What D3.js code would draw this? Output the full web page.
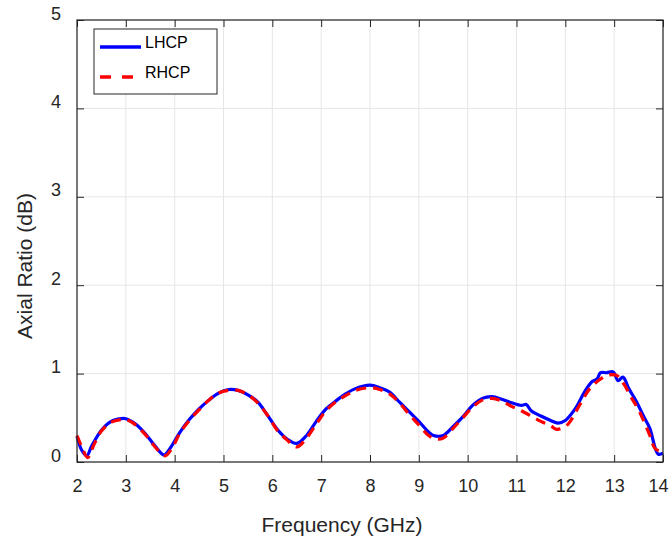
<!DOCTYPE html>
<html>
<head>
<meta charset="utf-8">
<script src="https://cdn.jsdelivr.net/npm/d3@7"></script>
<style>
  body { margin: 0; background: #fff; }
  svg { display: block; font-family: "Liberation Sans", Arial, Helvetica, sans-serif; }
</style>
</head>
<body>
<svg width="670" height="540"></svg>
<script>
// data
const lhcpFreq = [2.0, 2.1, 2.2, 2.3, 2.5, 2.7, 2.9, 3.0, 3.2, 3.4, 3.6, 3.78, 3.9, 4.1, 4.3, 4.5, 4.7, 4.9, 5.1, 5.3,
    5.5, 5.7, 5.9, 6.1, 6.3, 6.5, 6.7, 6.9, 7.1, 7.3, 7.5, 7.7, 8.0, 8.2, 8.4, 8.6, 8.8, 9.0, 9.2, 9.3,
    9.5, 9.7, 9.9, 10.1, 10.3, 10.5, 10.7, 10.9, 11.1, 11.2, 11.3, 11.5, 11.7, 11.85, 12.0, 12.2, 12.4, 12.55, 12.65, 12.72,
    12.85, 12.98, 13.08, 13.18, 13.3, 13.46, 13.6, 13.73, 13.9, 14.0];
const lhcpAR = [0.29, 0.13, 0.07, 0.18, 0.36, 0.46, 0.49, 0.49, 0.43, 0.32, 0.18, 0.08, 0.15, 0.33, 0.48, 0.60, 0.70, 0.78, 0.82, 0.81,
    0.76, 0.68, 0.53, 0.37, 0.26, 0.21, 0.30, 0.46, 0.60, 0.69, 0.77, 0.83, 0.87, 0.84, 0.79, 0.68, 0.57, 0.46, 0.34, 0.30,
    0.30, 0.40, 0.51, 0.64, 0.72, 0.74, 0.71, 0.67, 0.64, 0.65, 0.58, 0.52, 0.47, 0.44, 0.47, 0.60, 0.80, 0.91, 0.94, 1.01,
    1.01, 1.02, 0.92, 0.96, 0.83, 0.68, 0.52, 0.38, 0.09, 0.10];

const rhcpFreq = [2.0, 2.1, 2.22, 2.35, 2.5, 2.7, 2.9, 3.0, 3.2, 3.4, 3.6, 3.8, 3.95, 4.1, 4.3, 4.5, 4.7, 4.9, 5.1, 5.3,
    5.5, 5.7, 5.9, 6.1, 6.3, 6.5, 6.7, 6.9, 7.1, 7.3, 7.5, 7.7, 8.0, 8.2, 8.4, 8.6, 8.8, 9.0, 9.2, 9.35,
    9.5, 9.7, 9.9, 10.1, 10.3, 10.5, 10.7, 10.9, 11.1, 11.3, 11.5, 11.7, 11.82, 12.0, 12.1, 12.3, 12.5, 12.7, 12.85, 13.05,
    13.2, 13.35, 13.5, 13.73, 13.84, 14.0];
const rhcpAR = [0.30, 0.17, 0.05, 0.20, 0.35, 0.45, 0.48, 0.48, 0.42, 0.31, 0.17, 0.07, 0.16, 0.32, 0.47, 0.59, 0.70, 0.78, 0.81, 0.81,
    0.76, 0.67, 0.53, 0.36, 0.25, 0.17, 0.27, 0.43, 0.58, 0.68, 0.75, 0.81, 0.84, 0.82, 0.77, 0.67, 0.54, 0.42, 0.30, 0.26,
    0.27, 0.38, 0.50, 0.62, 0.70, 0.72, 0.69, 0.63, 0.58, 0.52, 0.46, 0.41, 0.37, 0.40, 0.46, 0.65, 0.83, 0.93, 0.98, 0.98,
    0.88, 0.73, 0.59, 0.30, 0.15, 0.11];

const xTicks = [2, 3, 4, 5, 6, 7, 8, 9, 10, 11, 12, 13, 14];
const yTicks = [0, 1, 2, 3, 4, 5];

const series = [
    {name: "LHCP", freq: lhcpFreq, ar: lhcpAR, color: "#0000ff", dash: null},
    {name: "RHCP", freq: rhcpFreq, ar: rhcpAR, color: "#ff0000", dash: "10,7"}
];

const svg = d3.select("svg");
const margin = {top: 20, right: 7, bottom: 78, left: 77},
      width = +svg.attr("width") - margin.left - margin.right,
      height = +svg.attr("height") - margin.top - margin.bottom;

const g = svg.append("g").attr("transform", `translate(${margin.left},${margin.top})`);

const x = d3.scaleLinear().domain([2, 14]).range([0, width]);
const y = d3.scaleLinear().domain([0, 5]).range([height, 0]);

const axisColor = "#262626";

// grid
g.append("g").selectAll("line").data(xTicks).join("line")
    .attr("x1", d => x(d)).attr("x2", d => x(d))
    .attr("y1", 0).attr("y2", height)
    .attr("stroke", "#e6e6e6").attr("stroke-width", 1);
g.append("g").selectAll("line").data(yTicks).join("line")
    .attr("x1", 0).attr("x2", width)
    .attr("y1", d => y(d)).attr("y2", d => y(d))
    .attr("stroke", "#e6e6e6").attr("stroke-width", 1);

// curves
const line = d3.line()
    .x(d => x(d[0]))
    .y(d => y(d[1]))
    .curve(d3.curveCatmullRom.alpha(0.5));

series.forEach(s => {
    g.append("path")
        .datum(d3.zip(s.freq, s.ar))
        .attr("fill", "none")
        .attr("stroke", s.color)
        .attr("stroke-width", 3.2)
        .attr("stroke-dasharray", s.dash)
        .attr("d", line);
});

// axes (ticks inside, box all round)
function styleAxis(sel) {
    sel.select(".domain").remove();
    sel.selectAll("line").attr("stroke", axisColor);
    sel.selectAll("text").attr("fill", axisColor).style("font-size", "18px")
        .style("font-family", '"Liberation Sans", Arial, sans-serif');
}

const xAxis = g.append("g")
    .attr("transform", `translate(0,${height})`)
    .call(d3.axisBottom(x).tickValues(xTicks).tickFormat(d3.format("d")).tickSizeInner(-7).tickSizeOuter(0).tickPadding(17))
    .call(styleAxis);
// last label sits a little left so it stays inside the window
xAxis.selectAll(".tick text").filter(d => d === 14).attr("dx", "-5");

g.append("g")
    .call(d3.axisTop(x).tickValues(xTicks).tickFormat("").tickSizeInner(-7).tickSizeOuter(0))
    .call(styleAxis);

g.append("g")
    .call(d3.axisLeft(y).tickValues(yTicks).tickFormat(d3.format("d")).tickSizeInner(-7).tickSizeOuter(0).tickPadding(16))
    .call(styleAxis)
    .selectAll("text").attr("dy", "-0.05em");

g.append("g")
    .attr("transform", `translate(${width},0)`)
    .call(d3.axisRight(y).tickValues(yTicks).tickFormat("").tickSizeInner(-7).tickSizeOuter(0))
    .call(styleAxis);

g.append("rect")
    .attr("width", width).attr("height", height)
    .attr("fill", "none").attr("stroke", axisColor).attr("stroke-width", 1.2);

// axis labels
svg.append("text")
    .attr("x", 342).attr("y", 532)
    .attr("text-anchor", "middle")
    .attr("fill", axisColor)
    .style("font-size", "21px")
    .text("Frequency (GHz)");

svg.append("text")
    .attr("transform", "translate(32,266) rotate(-90)")
    .attr("text-anchor", "middle")
    .attr("fill", axisColor)
    .style("font-size", "21px")
    .text("Axial Ratio (dB)");

// legend
const legend = svg.append("g").attr("transform", "translate(94,29)");
legend.append("rect")
    .attr("width", 123).attr("height", 65)
    .attr("fill", "#fff").attr("stroke", axisColor).attr("stroke-width", 1);

series.forEach((s, i) => {
    const ly = 18 + i * 30;
    legend.append("line")
        .attr("x1", 6).attr("x2", 47)
        .attr("y1", ly).attr("y2", ly)
        .attr("stroke", s.color).attr("stroke-width", 3.5)
        .attr("stroke-dasharray", s.dash ? "11,11" : null);
    legend.append("text")
        .attr("x", 51).attr("y", ly)
        .attr("dy", "0.05em")
        .attr("fill", "#000")
        .style("font-size", "16px")
        .text(s.name);
});
</script>
</body>
</html>
